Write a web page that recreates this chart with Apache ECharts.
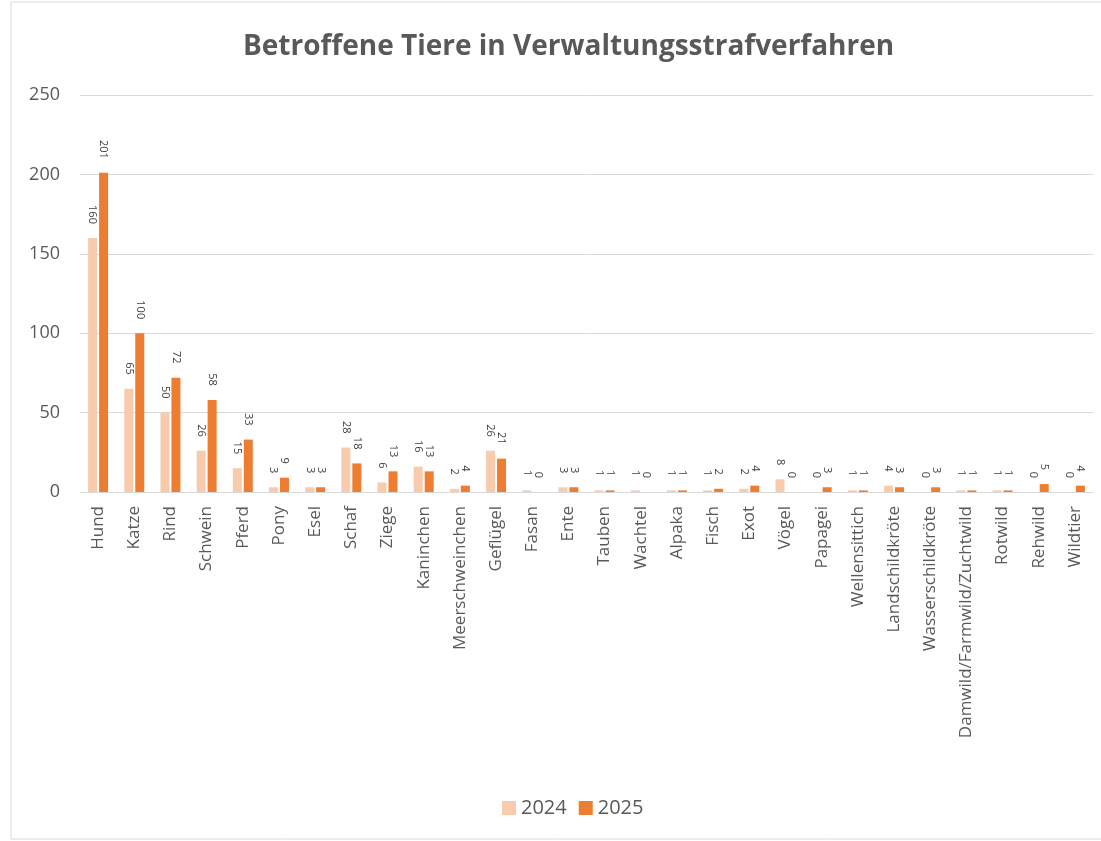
<!DOCTYPE html>
<html>
<head>
<meta charset="utf-8">
<script src="https://cdn.jsdelivr.net/npm/echarts@6/dist/echarts.min.js"></script>
<style>
html, body { margin:0; padding:0; background:#fff; }
#main { width:1101px; height:841px; }
</style>
</head>
<body>
<div id="main"></div>
<script>
var categories = ["Hund","Katze","Rind","Schwein","Pferd","Pony","Esel","Schaf","Ziege","Kaninchen",
    "Meerschweinchen","Geflügel","Fasan","Ente","Tauben","Wachtel","Alpaka","Fisch","Exot","Vögel",
    "Papagei","Wellensittich","Landschildkröte","Wasserschildkröte","Damwild/Farmwild/Zuchtwild",
    "Rotwild","Rehwild","Wildtier"];
var values2024 = [160,65,50,26,15,3,3,28,6,16,2,26,1,3,1,1,1,1,2,8,0,1,4,0,1,1,0,0];
var values2025 = [201,100,72,58,33,9,3,18,13,13,4,21,0,3,1,0,1,2,4,0,3,1,3,3,1,1,5,4];
var yTicks = [0,50,100,150,200,250];

var fontName = "Open Sans";
var textGrey = "#595959";

/*Datenbeschriftung*/
function barLabel(){
    return {
        show: true,
        position: "top",
        distance: 14,
        rotate: -90,
        align: "right",
        verticalAlign: "middle",
        fontFamily: fontName,
        fontSize: 11,
        color: "#404040"
    };
}

var chart = echarts.init(document.getElementById("main"));
var option = {
    backgroundColor: "#ffffff",
    animation: false,
    title: {
        text: "Betroffene Tiere in Verwaltungsstrafverfahren",
        left: 238,
        top: 28,
        textStyle: {
            fontFamily: fontName,
            fontSize: 28,
            fontWeight: "bold",
            color: textGrey
        }
    },
    graphic: [{
        type: "rect",
        shape: {x: 11, y: 2, width: 1100, height: 837},
        style: {fill: null, stroke: "#d9d9d9", lineWidth: 1},
        silent: true
    }],
    legend: {
        data: ["2024","2025"],
        bottom: 18,
        left: 497,
        icon: "rect",
        itemWidth: 14,
        itemHeight: 14,
        itemGap: 12,
        textStyle: {fontFamily: fontName, fontSize: 20, color: textGrey}
    },
    grid: {
        left: 80,
        right: 8,
        top: 95,
        bottom: 349,
        containLabel: false
    },
    xAxis: {
        type: "category",
        data: categories,
        axisTick: {show: false},
        axisLine: {lineStyle: {color: "#d9d9d9"}},
        axisLabel: {
            rotate: 90,
            interval: 0,
            margin: 14,
            fontFamily: fontName,
            fontSize: 17,
            color: textGrey
        }
    },
    yAxis: {
        type: "value",
        min: yTicks[0],
        max: yTicks[yTicks.length - 1],
        interval: 50,
        axisLine: {show: false},
        axisTick: {show: false},
        splitLine: {lineStyle: {color: "#d9d9d9"}},
        axisLabel: {
            margin: 20,
            fontFamily: fontName,
            fontSize: 18,
            color: textGrey
        }
    },
    series: [
        {
            name: "2024",
            type: "bar",
            data: values2024,
            barWidth: 9,
            barGap: "22%",
            itemStyle: {color: "#f8cbad"},
            label: barLabel()
        },
        {
            name: "2025",
            type: "bar",
            data: values2025,
            barWidth: 9,
            itemStyle: {color: "#ed7d31"},
            label: barLabel()
        }
    ]
};
chart.setOption(option);
</script>
</body>
</html>
